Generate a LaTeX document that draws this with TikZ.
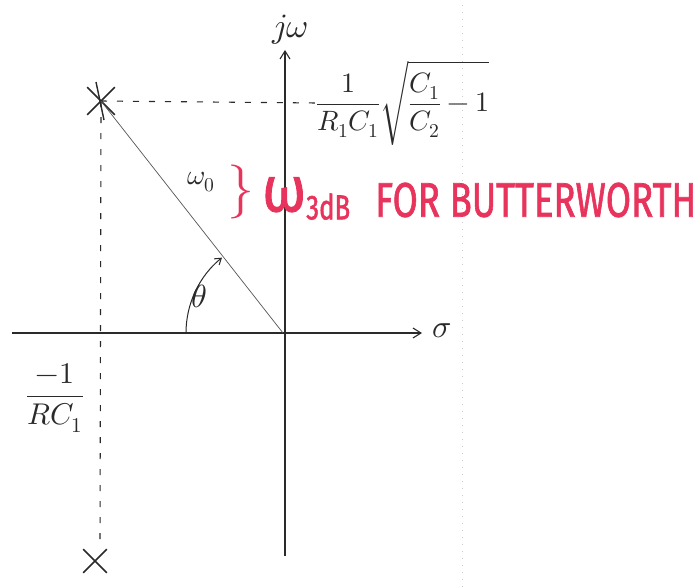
\documentclass[tikz,border=0pt]{standalone}
\usepackage{amsmath}
\usepackage{fontspec}
\usepackage{unicode-math}
\setmathfont{Latin Modern Math}
\newfontfamily\redfont{Fira Sans}[FakeBold=1.6]
\usetikzlibrary{arrows.meta,shapes.misc}
\definecolor{inkred}{HTML}{E8345C}
\definecolor{ink}{HTML}{2A2A2A}
\tikzset{
  axis/.style={draw=ink, line width=1.1pt, -{Straight Barb[length=8pt,width=10pt]}},
  guide/.style={draw=ink, line width=1.1pt, dash pattern=on 6pt off 10pt},
  pole/.style={draw=ink, cross out, line width=1.6pt, minimum size=26pt, inner sep=0pt},
  radius line/.style={draw=ink!80, line width=0.7pt},
  lbl/.style={text=ink, inner sep=0pt},
  redlbl/.style={text=inkred, inner sep=0pt, font=\redfont},
}
\begin{document}
\begin{tikzpicture}[x=1pt,y=1pt]
\useasboundingbox[fill=white] (0,0) rectangle (699,-587);
% faint scan line
\draw[gray!40, line width=0.8pt, dash pattern=on 1pt off 6pt] (462,-5) -- (462,-587);
% axes
\coordinate (O) at (283,-333);
\coordinate (xl) at (12,-333);
\coordinate (xr) at (422,-333);
\coordinate (yb) at (285,-556);
\coordinate (yt) at (285,-50);
\draw[axis] (xl) -- (xr);
\draw[axis] (yb) -- (yt);
\node[lbl, font=\fontsize{34}{38}\selectfont] (jw) at (290,-30) {$j\omega$};
\node[lbl, font=\fontsize{32}{34}\selectfont] (sigma) at (442,-331) {$\sigma$};
% poles
\node[pole] (P) at (101,-101) {};
\node[pole, minimum size=22pt] (Q) at (95,-561) {};
\draw[ink, line width=1.4pt] (96,-82) -- (104,-120);
\coordinate (ph) at (318,-103);
\coordinate (pv) at (100,-546);
\draw[guide] (P.center) -- (ph);
\draw[guide] (P.center) -- (pv);
\draw[radius line] (P.center) -- (O);
% angle
\draw[draw=ink, line width=1pt, -{Straight Barb[length=6pt,width=8pt]}]
  (186,-333) arc[start angle=180, end angle=129, radius=97];
\node[lbl, font=\fontsize{32}{34}\selectfont] (theta) at (199,-296) {$\theta$};
% labels
\node[lbl, font=\fontsize{28}{32}\selectfont] (w0) at (201,-182) {$\omega_0$};
\node[lbl, anchor=west, font=\fontsize{28}{32}\selectfont] (formula) at (316,-103)
  {$\dfrac{1}{R_1C_1}\sqrt{\dfrac{C_1}{C_2}-1}$};
\node[lbl, font=\fontsize{30}{34}\selectfont] (rc) at (55,-398) {$\dfrac{-1}{RC_1}$};
% red annotation
\node[redlbl, font=\fontsize{54}{56}\selectfont] (brace) at (241,-192) {$\}$};
\node[redlbl, anchor=south west] (w3db) at (262,-220)
  {\resizebox{44pt}{34pt}{ω}\raisebox{-8pt}{\resizebox{44pt}{26pt}{3dB}}};
\node[redlbl, anchor=west] (butter) at (375,-200)
  {\resizebox{321pt}{34pt}{FOR BUTTERWORTH}};
\end{tikzpicture}
\end{document}
